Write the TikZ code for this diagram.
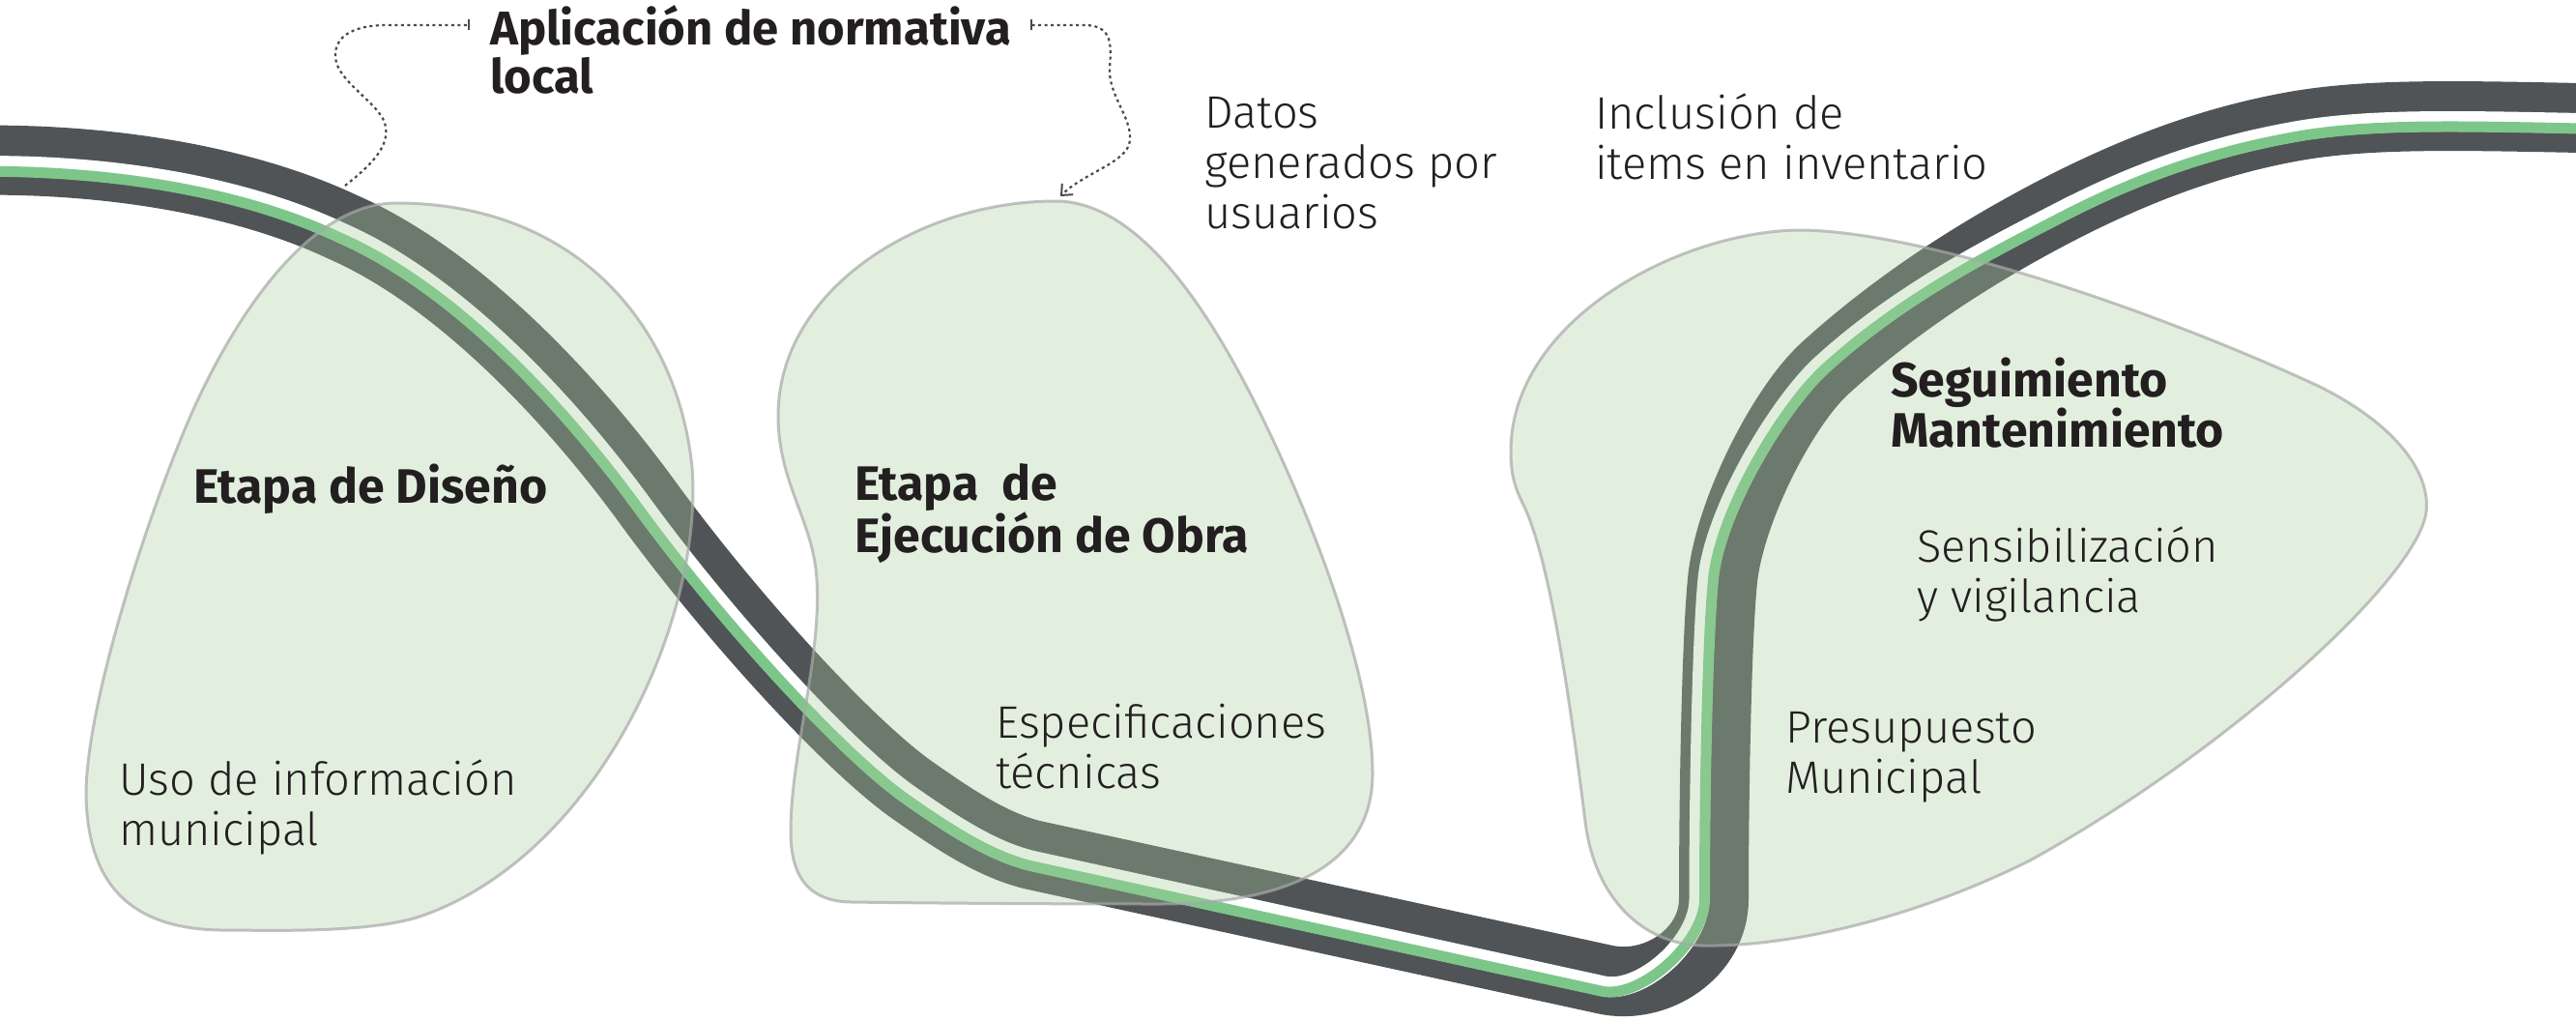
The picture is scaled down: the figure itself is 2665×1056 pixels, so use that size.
\documentclass[tikz,border=0pt]{standalone}
\usepackage{fontspec}
\setmainfont{Fira Sans}
\newfontfamily\lightf{Fira Sans Light}
\usetikzlibrary{arrows.meta}
\definecolor{roadc}{HTML}{505456}
\definecolor{stripec}{HTML}{7DC68A}
\definecolor{blobf}{HTML}{A4CD9B}
\definecolor{blobd}{HTML}{A8A8A8}
\definecolor{txtc}{HTML}{231F20}
\definecolor{connc}{HTML}{4A4A4A}
\begin{document}
\begin{tikzpicture}[x=1pt,y=-1pt,
  roadband/.style={draw=roadc, line width=72},
  whiteband/.style={draw=white, line width=21},
  greenband/.style={draw=stripec, line width=11},
  blob/.style={fill=blobf, fill opacity=0.32, draw=blobd, draw opacity=0.7, line width=3},
  conn/.style={draw=connc, line width=2.2, dash pattern=on 3pt off 3.5pt},
  boldlabel/.style={font=\bfseries\fontsize{50}{51}\selectfont, text=txtc, align=left, inner sep=0, anchor=base west},
  lightlabel/.style={font=\lightf\fontsize{47}{52}\selectfont, text=txtc, align=left, inner sep=0, anchor=base west},
  semilabel/.style={font=\bfseries\fontsize{50}{52}\selectfont, text=txtc, align=left, inner sep=0, anchor=base west}]
\useasboundingbox (0,0) rectangle (2665,1056);
\clip (0,0) rectangle (2665,1056);
% road
\draw[roadband] (-40,166) .. controls (120,162) and (260,190) .. (355,235)
 .. controls (474,287) and (591,412) .. (668,517)
 .. controls (756,638) and (879,772) .. (945,818)
 .. controls (986,846.6) and (1028,875.4) .. (1072,885)
 -- (1660,1013)
 .. controls (1714,1025) and (1773,985) .. (1773,930)
 .. controls (1773,820) and (1776,660) .. (1782,600)
 .. controls (1789,530) and (1843.7,421.4) .. (1888,381)
 .. controls (1969,307) and (2060,252.6) .. (2131,216)
 .. controls (2220,170.3) and (2298,143.8) .. (2377,130)
 .. controls (2460,116) and (2560,120) .. (2720,123);
\draw[whiteband] (-40,172) .. controls (120,168) and (257.6,195.5) .. (352.6,240.5)
 .. controls (471.6,292.5) and (586.2,415.5) .. (663.2,520.5)
 .. controls (751.2,641.5) and (875.6,776.9) .. (941.6,822.9)
 .. controls (982.6,851.5) and (1026.7,881.3) .. (1070.7,890.9)
 -- (1658.5,1019.8)
 .. controls (1697.6,1028.3) and (1758,975) .. (1758,930)
 .. controls (1758,820) and (1761,660) .. (1767,598.5)
 .. controls (1774,528.5) and (1840.3,417.7) .. (1884.6,377.3)
 .. controls (1965.6,303.3) and (2061.4,255.3) .. (2132.4,218.7)
 .. controls (2221.4,173) and (2299,149.2) .. (2378,135.4)
 .. controls (2461,121.4) and (2560,125.5) .. (2720,128.5);
\draw[greenband] (-40,177.5) .. controls (120,174.5) and (255.4,200.5) .. (350.4,245.5)
 .. controls (469.4,297.5) and (581.8,418.7) .. (658.8,523.7)
 .. controls (746.8,644.7) and (872.5,781.4) .. (938.5,827.4)
 .. controls (979.5,856) and (1025.5,886.7) .. (1069.5,896.3)
 -- (1657.3,1025.2)
 .. controls (1696.4,1033.7) and (1763.5,975) .. (1763.5,930)
 .. controls (1763.5,820) and (1766.5,660) .. (1772.5,599)
 .. controls (1779.5,529) and (1844,421.8) .. (1888.3,381.4)
 .. controls (1969.3,307.4) and (2063.9,260.2) .. (2134.9,223.6)
 .. controls (2223.9,177.9) and (2300,154.6) .. (2379,140.8)
 .. controls (2462,126.8) and (2561,131) .. (2720,134);
% blobs
\path[blob] (410,210) .. controls (590,210) and (700,330) .. (716,483)
 .. controls (728,640) and (620,880) .. (440,946)
 .. controls (395,963) and (310,963) .. (240,962)
 .. controls (140,964) and (90,920) .. (89,820)
 .. controls (90,720) and (161,508) .. (203,417)
 .. controls (245,326) and (320,210) .. (410,210) -- cycle;
\path[blob] (1092,208) .. controls (1170,208) and (1240,300) .. (1300,420)
 .. controls (1360,540) and (1420,700) .. (1420,800)
 .. controls (1420,890) and (1340,935) .. (1200,935)
 .. controls (1080,935) and (950,934) .. (880,933)
 .. controls (835,932) and (818,905) .. (818,860)
 .. controls (818,780) and (850,680) .. (845,600)
 .. controls (842,540) and (805,500) .. (805,430)
 .. controls (805,300) and (950,208) .. (1092,208) -- cycle;
\path[blob] (1864,238) .. controls (2000,240) and (2250,330) .. (2400,400)
 .. controls (2480,440) and (2515,490) .. (2510,530)
 .. controls (2500,600) and (2300,780) .. (2100,890)
 .. controls (1980,950) and (1850,980) .. (1760,978)
 .. controls (1700,976) and (1650,930) .. (1640,850)
 .. controls (1620,690) and (1600,570) .. (1575,520)
 .. controls (1565,500) and (1563,485) .. (1563,467)
 .. controls (1563,330) and (1740,238) .. (1864,238) -- cycle;
% texts (base anchor = last line)
\node[boldlabel, font=\bfseries\fontsize{49}{50}\selectfont] (apl) at (507,97) {Aplicación de normativa\\local};
\node[boldlabel] (dis) at (200,520) {Etapa de Diseño};
\node[boldlabel] (eje) at (884,571) {Etapa\ \ de\\Ejecución de Obra};
\node[lightlabel] (uso) at (123,874) {Uso de información\\municipal};
\node[lightlabel] (esp) at (1030,815) {Especificaciones\\técnicas};
\node[lightlabel] (dat) at (1246,237) {Datos\\generados por\\usuarios};
\node[lightlabel] (inc) at (1650,186) {Inclusión de\\items en inventario};
\node[semilabel] (seg) at (1956,462) {Seguimiento\\Mantenimiento};
\node[lightlabel] (sen) at (1983,633) {Sensibilización\\y vigilancia};
\node[lightlabel] (pre) at (1847,820) {Presupuesto\\Municipal};
% connectors
\coordinate (d1) at (357,192);
\coordinate (aplw) at (486,26);
\coordinate (aple) at (1066,26);
\coordinate (d2) at (1097,203);
\draw[conn, -{Bar[width=11pt,line width=2pt]}] (d1) .. controls (385,170) and (405,150) .. (398,127)
 .. controls (390,105) and (350,85) .. (347,60)
 .. controls (345,35) and (370,26) .. (400,26) -- (aplw);
\draw[conn, {Bar[width=11pt,line width=2pt]}-{Straight Barb[length=9pt,width=16pt,line width=2pt]}] (aple) -- (1125,26)
 .. controls (1150,28) and (1150,45) .. (1148,70)
 .. controls (1146,100) and (1175,125) .. (1168,150)
 .. controls (1160,170) and (1120,180) .. (d2);
\end{tikzpicture}
\end{document}
